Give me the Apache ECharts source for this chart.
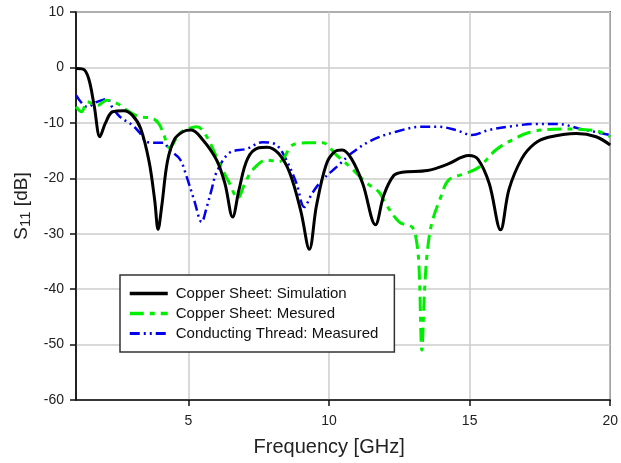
<!DOCTYPE html>
<html>
<head>
<meta charset="utf-8">
<script src="https://cdn.jsdelivr.net/npm/echarts@6/dist/echarts.min.js"></script>
<style>
html, body { margin: 0; padding: 0; background: #fff; }
#chart { width: 621px; height: 463px; }
</style>
</head>
<body>
<div id="chart"></div>
<script>
// Copper Sheet: Simulation
var freqSim = [1.0, 1.25, 1.45, 1.65, 1.85, 2.05, 2.3, 2.7, 3.0, 3.3, 3.6, 3.8, 3.92, 4.05, 4.25, 4.5, 4.8, 5.1, 5.5, 6.0, 6.3, 6.57, 6.8, 7.1, 7.5, 7.8, 8.2, 8.6, 9.0, 9.3, 9.55, 9.9, 10.2, 10.47, 10.8, 11.2, 11.65, 11.95, 12.3, 12.6, 13.5, 14.2, 14.97, 15.3, 15.7, 16.1, 16.4, 16.85, 17.3, 17.8, 18.8, 19.5, 20];
var s11Sim = [-0.2, -0.3, -2, -7, -12.5, -10, -8, -7.8, -8.6, -11, -17, -24, -29.2, -25, -17, -13, -11.6, -11.3, -13, -16.7, -21, -27, -22, -16.5, -14.5, -14.4, -15.5, -19, -26, -32.8, -25, -17.5, -15.2, -14.9, -16.5, -21, -28.4, -23, -19.5, -18.9, -18.6, -17.5, -15.9, -16.6, -21, -29.3, -22, -16.5, -13.8, -12.6, -11.9, -12.5, -14];

// Copper Sheet: Mesured
var freqCu = [1.0, 1.2, 1.4, 1.75, 2.1, 2.5, 2.8, 3.27, 3.73, 3.95, 4.1, 4.33, 4.6, 4.8, 5.3, 5.65, 6.1, 6.46, 6.75, 7.0, 7.28, 7.77, 8.23, 8.7, 9.2, 9.77, 10.26, 10.8, 11.3, 11.78, 12.0, 12.5, 12.95, 13.1, 13.2, 13.3, 13.4, 13.5, 13.66, 13.98, 14.26, 14.87, 15.33, 15.93, 16.5, 17.2, 18.27, 19.47, 20];
var s11Cu = [-7.1, -8, -6.2, -6.9, -5.9, -6.6, -7.7, -8.9, -9.2, -10.2, -11.8, -14.5, -12.5, -11.5, -10.7, -12.5, -17.3, -20.9, -23.6, -21, -18.5, -16.7, -17, -14, -13.6, -13.6, -15.8, -18.2, -20.7, -22.5, -24.5, -27.9, -28.8, -31, -36, -51, -40, -33, -28, -23.3, -20.3, -19.1, -18, -14.9, -13.1, -11.6, -11.1, -11.4, -12.5];

// Conducting Thread: Measured
var freqTh = [1.0, 1.2, 1.4, 1.75, 2.1, 2.3, 2.56, 3.0, 3.27, 3.5, 3.8, 4.1, 4.33, 4.7, 4.94, 5.2, 5.47, 5.65, 5.82, 6.0, 6.46, 7.06, 7.63, 8.13, 8.48, 8.84, 9.12, 9.4, 9.76, 10.26, 10.82, 11.53, 12.38, 13.3, 13.9, 14.5, 15.08, 15.68, 16.5, 17.35, 18.16, 18.87, 20];
var s11Th = [-5, -6.4, -7.1, -6.2, -5.7, -7.3, -8.9, -10.4, -11.8, -13.4, -13.6, -13.6, -14.9, -16.6, -19.8, -23.9, -27.9, -25.2, -22.1, -18.9, -15.4, -14.7, -13.5, -14, -16.7, -20.9, -25.2, -22.7, -20.3, -18, -15.4, -13.1, -11.6, -10.7, -10.7, -11.3, -12.2, -11.3, -10.6, -10.2, -10.2, -11, -12.2];

var xTicks = [5, 10, 15, 20];
var seriesNames = ['Copper Sheet: Simulation', 'Copper Sheet: Mesured', 'Conducting Thread: Measured'];

function pairs(xs, ys){
    var out = [];
    for(var i = 0; i < xs.length; i++){
        out.push([xs[i], ys[i]]);
    }
    return out;
}

var font = 'Liberation Sans, Arial, sans-serif';
var styles = [
    { color: '#000', width: 3, type: 'solid' },
    { color: '#00ee00', width: 3, type: [14, 6, 5, 6] },
    { color: '#0000ee', width: 2.5, type: [10, 4, 2, 4, 2, 4] }
];

var option = {
    animation: false,
    backgroundColor: '#fff',
    grid: { left: 76, top: 12, right: 9, bottom: 63, show: true, borderColor: '#222', borderWidth: 1.5, backgroundColor: 'transparent' },
    legend: {
        orient: 'vertical', left: 120, top: 275,
        backgroundColor: '#fff', borderColor: '#333', borderWidth: 1.5, borderRadius: 0,
        padding: [11, 16, 11, 8], itemGap: 5, itemWidth: 38, itemHeight: 14,
        itemStyle: { opacity: 0 },
        textStyle: { fontFamily: font, fontSize: 15, color: '#111', padding: [0, 0, 0, 3] },
        data: [
            { name: seriesNames[0], lineStyle: { width: 3.5 } },
            { name: seriesNames[1], lineStyle: { width: 3.5 } },
            { name: seriesNames[2], lineStyle: { width: 3 } }
        ]
    },
    xAxis: {
        type: 'value', min: 1, max: 20,
        name: 'Frequency [GHz]', nameLocation: 'middle', nameGap: 37,
        nameTextStyle: { fontFamily: font, fontSize: 20, color: '#222', padding: [0, 28, 0, 0] },
        axisLine: { show: true, onZero: false, lineStyle: { color: '#111', width: 1.5 } },
        axisTick: { show: true, length: 6, customValues: xTicks, lineStyle: { color: '#111', width: 1.5 } },
        axisLabel: { customValues: xTicks, margin: 14, fontFamily: font, fontSize: 14, color: '#222' },
        splitLine: { show: true, lineStyle: { color: '#ccc', width: 1.5 } }
    },
    yAxis: {
        type: 'value', min: -60, max: 10, interval: 10,
        name: 'S{sub|11} [dB]', nameLocation: 'middle', nameGap: 40,
        nameTextStyle: { fontFamily: font, fontSize: 19, color: '#222',
            rich: { sub: { fontFamily: font, fontSize: 15, color: '#222', verticalAlign: 'bottom', padding: [7, 0, 0, 0] } } },
        axisLine: { show: true, onZero: false, lineStyle: { color: '#111', width: 1.5 } },
        axisTick: { show: true, length: 6, lineStyle: { color: '#111', width: 1.5 } },
        axisLabel: { margin: 12, fontFamily: font, fontSize: 14, color: '#222' },
        splitLine: { show: true, lineStyle: { color: '#ccc', width: 1.5 } }
    },
    series: [
        { name: seriesNames[0], type: 'line', data: pairs(freqSim, s11Sim), smooth: 0.35, symbol: 'none', z: 4,
          lineStyle: styles[0], itemStyle: { color: styles[0].color } },
        { name: seriesNames[1], type: 'line', data: pairs(freqCu, s11Cu), smooth: 0.35, symbol: 'none', z: 3,
          lineStyle: styles[1], itemStyle: { color: styles[1].color } },
        { name: seriesNames[2], type: 'line', data: pairs(freqTh, s11Th), smooth: 0.35, symbol: 'none', z: 2,
          lineStyle: styles[2], itemStyle: { color: styles[2].color } }
    ]
};

var chart = echarts.init(document.getElementById('chart'));
chart.setOption(option);
</script>
</body>
</html>
